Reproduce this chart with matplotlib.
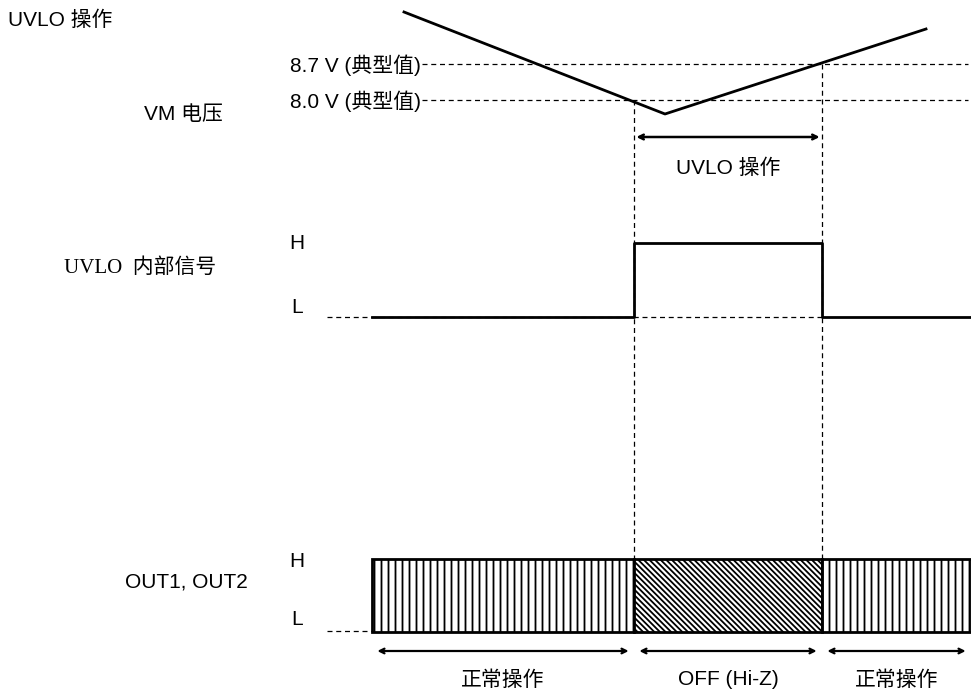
import matplotlib.pyplot as plt
from matplotlib.patches import Rectangle

DPI = 84
S = 100 / DPI   # keep sizes as if drawn at 100 dpi

plt.rcParams['font.family'] = ['Liberation Sans', 'Noto Sans CJK SC', 'DejaVu Sans']
plt.rcParams['hatch.linewidth'] = 1.3 * S

# timing diagram drawn in a pixel-like coordinate frame (y grows downward)
edges = [372, 634, 822, 971]          # segment boundaries on the time axis
vm_x = [404, 665, 926]                # VM voltage trace
vm_y = [13, 115, 30]
thresh_y = [65, 101]                  # 8.7 V and 8.0 V levels
thresh_labels = ['8.7 V (典型值)', '8.0 V (典型值)']
sig_hi, sig_lo = 244, 318             # UVLO internal signal levels
out_top, out_bot = 560, 633           # OUT1/OUT2 bar
seg_hatch = ['||', '\\' * 5, '||']
seg_labels = ['正常操作', 'OFF (Hi-Z)', '正常操作']

FS = 15 * S

fig = plt.figure(figsize=(971 / DPI, 692 / DPI), dpi=DPI)
ax = fig.add_axes([0, 0, 1, 1])
ax.set_xlim(0, 971)
ax.set_ylim(692, 0)
ax.axis('off')

dash = dict(color='black', lw=0.9 * S, ls=(0, (4, 3)))

# VM voltage
ax.plot(vm_x, vm_y, color='black', lw=2 * S)
for y, lab in zip(thresh_y, thresh_labels):
    ax.plot([422, 968], [y, y], **dash)
    ax.text(421, y, lab, ha='right', va='center', fontsize=FS)

# vertical dashed markers
ax.plot([edges[1], edges[1]], [thresh_y[1], out_top], **dash)
ax.plot([edges[2], edges[2]], [thresh_y[0], out_top], **dash)

# UVLO operation span
ax.annotate('', xy=(edges[1], 138), xytext=(edges[2], 138),
            arrowprops=dict(arrowstyle='<->', lw=1.8 * S, color='black'))
ax.text((edges[1] + edges[2]) / 2, 168, 'UVLO 操作', ha='center', va='center', fontsize=FS)

# UVLO internal signal
ax.plot([327, edges[2]], [sig_lo, sig_lo], **dash)
ax.plot([edges[0], edges[1], edges[1], edges[2], edges[2], edges[3]],
        [sig_lo, sig_lo, sig_hi, sig_hi, sig_lo, sig_lo], color='black', lw=2 * S)
ax.text(297, sig_hi, 'H', ha='center', va='center', fontsize=FS)
ax.text(297, sig_lo - 10, 'L', ha='center', va='center', fontsize=FS)

# OUT1, OUT2 bar
ax.plot([327, edges[0]], [out_bot - 1, out_bot - 1], **dash)
for i, h in enumerate(seg_hatch):
    ax.add_patch(Rectangle((edges[i], out_top), edges[i + 1] - edges[i], out_bot - out_top,
                           facecolor='white', edgecolor='black', lw=2 * S, hatch=h))
ax.text(297, out_top + 2, 'H', ha='center', va='center', fontsize=FS)
ax.text(297, out_bot - 13, 'L', ha='center', va='center', fontsize=FS)

# segment arrows and labels
for i, lab in enumerate(seg_labels):
    ax.annotate('', xy=(edges[i] + 3, 652), xytext=(edges[i + 1] - 3, 652),
                arrowprops=dict(arrowstyle='<->', lw=1.6 * S, color='black'))
    ax.text((edges[i] + edges[i + 1]) / 2, 680, lab, ha='center', va='center', fontsize=FS)

# row titles
ax.text(8, 20, 'UVLO 操作', ha='left', va='center', fontsize=FS)
ax.text(183, 115, 'VM 电压', ha='center', va='center', fontsize=FS)
ax.text(140, 268, 'UVLO  内部信号', ha='center', va='center', fontsize=FS,
        family=['Liberation Serif', 'Noto Sans CJK SC'])
ax.text(186, 582, 'OUT1, OUT2', ha='center', va='center', fontsize=FS)

fig.savefig('out.png', dpi=DPI)
